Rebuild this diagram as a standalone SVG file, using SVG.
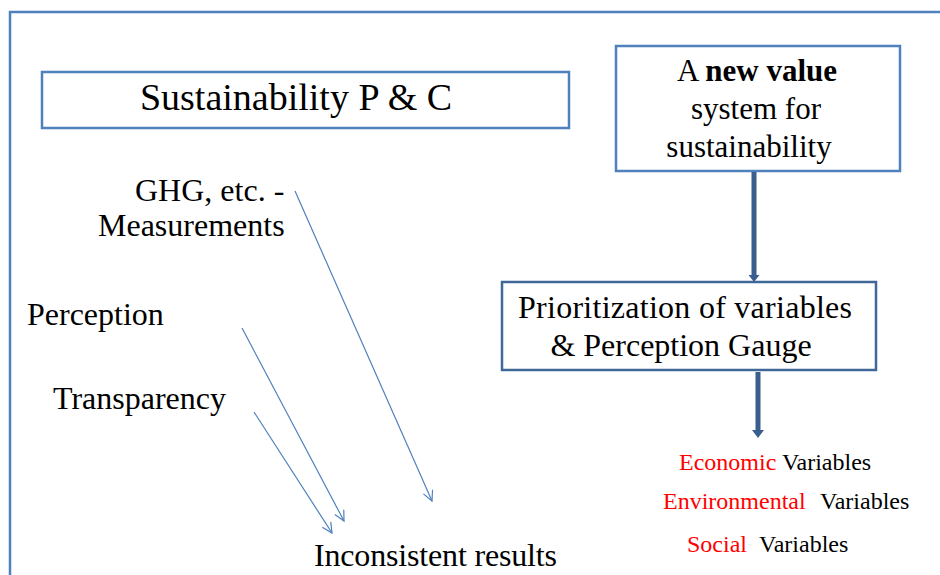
<svg xmlns="http://www.w3.org/2000/svg" width="940" height="575" viewBox="0 0 940 575">
  <style>
    .txt { font-family: "Liberation Serif", "Times New Roman", serif; fill: #000; }
    .box { fill: #fff; stroke: #4f81bd; stroke-width: 2.5; }
    .box-dark { fill: #fff; stroke: #3f6797; stroke-width: 2.5; }
    .thin { stroke: #4f81bd; stroke-width: 1.2; fill: none; marker-end: url(#openHead); }
    .thick { stroke: #3a5f8f; stroke-width: 5; fill: none; }
    .red { fill: #ff0000; }
  </style>
  <defs>
    <marker id="openHead" viewBox="0 0 12 12" refX="11" refY="6" markerWidth="12" markerHeight="12" markerUnits="userSpaceOnUse" orient="auto">
      <path d="M1,1 L11,6 L1,11" fill="none" stroke="#4f81bd" stroke-width="1.2"/>
    </marker>
  </defs>

  <rect width="940" height="575" fill="#fff"/>
  <!-- outer frame, running off the right and bottom edges -->
  <rect x="10" y="12" width="1000" height="1000" fill="none" stroke="#4f81bd" stroke-width="2.5"/>

  <g id="sustainability-pc">
    <rect class="box" x="42" y="72" width="527" height="56"/>
    <text class="txt" x="296" y="110" font-size="38" text-anchor="middle">Sustainability P &amp; C</text>
  </g>

  <g id="new-value">
    <rect class="box" x="616" y="46" width="284" height="125"/>
    <text class="txt" x="757" y="81" font-size="31" text-anchor="middle">A <tspan font-weight="bold">new value</tspan></text>
    <text class="txt" x="756" y="119" font-size="31" text-anchor="middle">system for</text>
    <text class="txt" x="749" y="157" font-size="31" text-anchor="middle">sustainability</text>
  </g>

  <g id="prioritization">
    <rect class="box-dark" x="502" y="282" width="374" height="88"/>
    <text class="txt" x="518" y="318" font-size="32" textLength="334" lengthAdjust="spacing">Prioritization of variables</text>
    <text class="txt" x="681" y="356" font-size="32" text-anchor="middle">&amp; Perception Gauge</text>
  </g>

  <g id="ghg">
    <text class="txt" x="135" y="201" font-size="32">GHG, etc. -</text>
    <text class="txt" x="98" y="236" font-size="32">Measurements</text>
  </g>

  <g id="perception">
    <text class="txt" x="27" y="325" font-size="32">Perception</text>
  </g>

  <g id="transparency">
    <text class="txt" x="53" y="409" font-size="32">Transparency</text>
  </g>

  <g id="inconsistent">
    <text class="txt" x="314" y="566" font-size="32" textLength="243" lengthAdjust="spacing">Inconsistent results</text>
  </g>

  <g id="variables">
    <text class="txt" x="679" y="470" font-size="24"><tspan class="red">Economic</tspan> Variables</text>
    <text class="txt" x="663" y="509" font-size="24"><tspan class="red">Environmental</tspan><tspan x="820">Variables</tspan></text>
    <text class="txt" x="687" y="552" font-size="24"><tspan class="red">Social</tspan><tspan x="759">Variables</tspan></text>
  </g>

  <g id="connectors">
    <line class="thin" x1="295" y1="191" x2="432" y2="501"/>
    <line class="thin" x1="242" y1="328" x2="344" y2="521"/>
    <line class="thin" x1="254" y1="412" x2="332" y2="533"/>
    <line class="thick" x1="754" y1="172" x2="754" y2="276"/>
    <polygon points="748.5,275 759.5,275 754,282" fill="#3a5f8f"/>
    <line class="thick" x1="758" y1="372" x2="758" y2="431"/>
    <polygon points="752,430 764,430 758,438" fill="#3a5f8f"/>
  </g>
</svg>
